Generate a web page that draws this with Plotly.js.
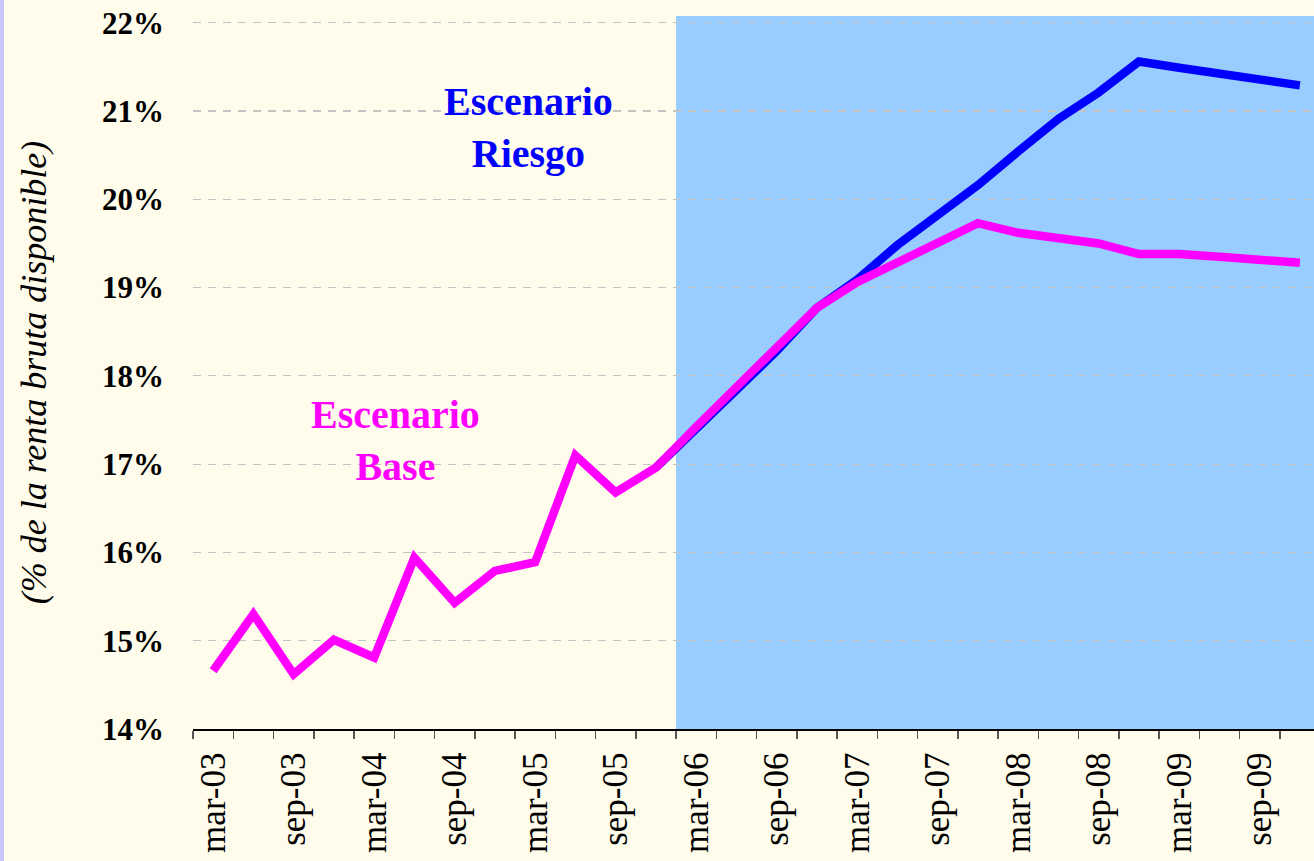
<!DOCTYPE html>
<html><head><meta charset="utf-8">
<script src="https://cdn.plot.ly/plotly-3.0.1.min.js"></script>
<style>html,body{margin:0;padding:0;overflow:hidden;background:#FFFCEB}</style>
</head><body><div id="chart" style="width:1314px;height:861px"></div>
<script>
const quarters = ['mar-03','jun-03','sep-03','dec-03','mar-04','jun-04','sep-04','dec-04',
  'mar-05','jun-05','sep-05','dec-05','mar-06','jun-06','sep-06','dec-06',
  'mar-07','jun-07','sep-07','dec-07','mar-08','jun-08','sep-08','dec-08',
  'mar-09','jun-09','sep-09','dec-09'];
const tickLabels = ['mar-03','sep-03','mar-04','sep-04','mar-05','sep-05','mar-06',
  'sep-06','mar-07','sep-07','mar-08','sep-08','mar-09','sep-09'];
const baseValues = [14.66, 15.30, 14.62, 15.01, 14.81, 15.94, 15.43, 15.79, 15.89, 17.10, 16.68, 16.96,
  17.42, 17.86, 18.32, 18.77, 19.06, 19.28, 19.50, 19.73, 19.62, 19.56, 19.50, 19.38, 19.38, 19.35, 19.31, 19.28];
const riskValues = [null, null, null, null, null, null, null, null, null, null, null, 16.96,
  17.40, 17.83, 18.28, 18.77, 19.09, 19.48, 19.82, 20.16, 20.54, 20.91, 21.21, 21.56, 21.49, 21.42, 21.36, 21.29];
const forecastStart = 'mar-06';
const baseLabel = 'Escenario<br>Base';
const riskLabel = 'Escenario<br>Riesgo';
const yTitle = '(% de la renta bruta disponible)';

const W = 1314, H = 861, ML = 193, MT = 16, MB = 132, MR = 0;
const PW = W - ML - MR, PH = H - MT - MB;
const idx = quarters.map((q, i) => i);
const tickIdx = tickLabels.map(l => quarters.indexOf(l));
const bounds = quarters.map((q, i) => i - 0.5).concat([quarters.length - 0.5]);
const fIdx = quarters.indexOf(forecastStart) - 0.5;
const serif = 'Liberation Serif, Times New Roman, serif';

const traces = [
  {x: idx, y: riskValues, type: 'scatter', mode: 'lines', name: 'Escenario Riesgo',
   line: {color: '#0000FF', width: 8.5}, connectgaps: false, hoverinfo: 'skip'},
  {x: idx, y: baseValues, type: 'scatter', mode: 'lines', name: 'Escenario Base',
   line: {color: '#FF00FF', width: 8.5}, hoverinfo: 'skip'}
];

const layout = {
  width: W, height: H,
  margin: {l: ML, r: MR, t: MT, b: MB, pad: 0},
  paper_bgcolor: '#FFFCEB', plot_bgcolor: '#FFFCEB',
  showlegend: false,
  xaxis: {
    range: [-0.5, -0.5 + quarters.length * PW / (PW + 6)],
    tickvals: tickIdx, ticktext: tickLabels, tickangle: -90,
    ticks: '', ticklabelstandoff: 8,
    tickfont: {family: serif, size: 35, color: '#000'},
    showgrid: false, zeroline: false,
    showline: true, linecolor: '#000', linewidth: 1.5,
    minor: {tickvals: bounds, ticks: 'outside', ticklen: 8, tickcolor: '#555', tickwidth: 1.5, showgrid: false}
  },
  yaxis: {
    range: [14, 22.076], tickvals: [14,15,16,17,18,19,20,21,22], ticktext: ['14%','15%','16%','17%','18%','19%','20%','21%','22%'],
    ticks: '', ticklabelstandoff: 28,
    tickfont: {family: serif, size: 31, color: '#000', weight: 'bold'},
    showgrid: true, gridcolor: '#C4C4C4', gridwidth: 1.2, griddash: '8px,7px',
    zeroline: false, showline: false,
    title: {text: yTitle, font: {family: serif, size: 36, style: 'italic', color: '#000'}, standoff: 44}
  },
  shapes: [
    {type: 'rect', xref: 'x', yref: 'paper', x0: fIdx, x1: quarters.length, y0: 0, y1: 1,
     fillcolor: '#99CCFF', line: {width: 0}, layer: 'between'},
    {type: 'rect', xref: 'paper', yref: 'paper', x0: -ML / PW, x1: (-ML + 4) / PW, y0: -MB / PH, y1: 1 + MT / PH,
     fillcolor: '#C8C8FF', line: {width: 0}, layer: 'above'}
  ],
  annotations: [
    {x: 7.83, y: 20.81, xref: 'x', yref: 'y', text: riskLabel, showarrow: false,
     font: {family: serif, size: 40, color: '#0000FF', weight: 'bold'}, align: 'center'},
    {x: 4.54, y: 17.27, xref: 'x', yref: 'y', text: baseLabel, showarrow: false,
     font: {family: serif, size: 40, color: '#FF00FF', weight: 'bold'}, align: 'center'}
  ]
};
Plotly.newPlot('chart', traces, layout, {staticPlot: true, displayModeBar: false});
</script></body></html>
